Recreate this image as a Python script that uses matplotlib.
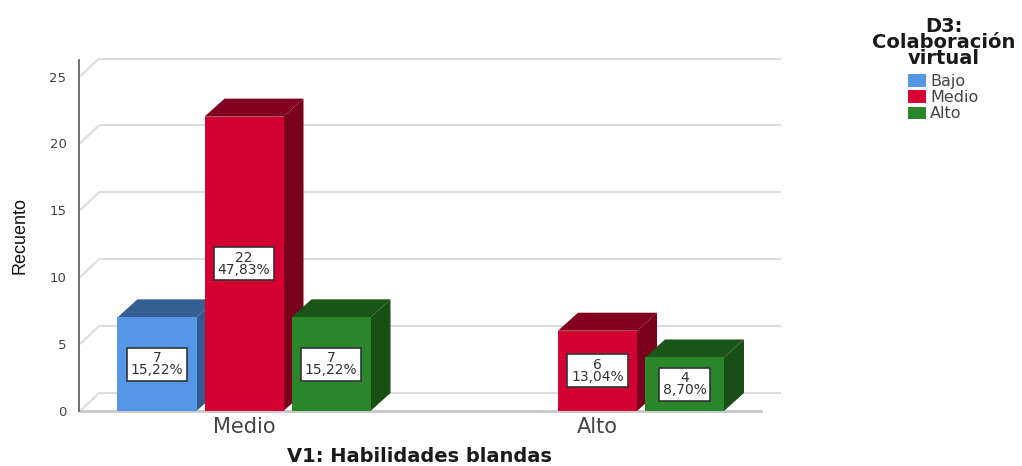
import matplotlib
matplotlib.use("Agg")
import matplotlib.pyplot as plt
from matplotlib.patches import Patch

categories = ["Medio", "Alto"]
series_names = ["Bajo", "Medio", "Alto"]
bajo = [7, 0]
medio = [22, 6]
alto = [7, 4]
bajo_pct = ["15,22%", ""]
medio_pct = ["47,83%", "13,04%"]
alto_pct = ["15,22%", "8,70%"]
y_ticks = [0, 5, 10, 15, 20, 25]

front = ["#5596E6", "#D50032", "#2A862A"]
top = ["#355E91", "#820020", "#1A5417"]
side = ["#325A8C", "#7A001E", "#184F15"]
GRID = "#DCDCDC"

W, H = 1022, 466
fig = plt.figure(figsize=(W / 100, H / 100), dpi=100)
L, R, T, B = 79, 781, 60, 411
ax = fig.add_axes([L / W, 1 - B / H, (R - L) / W, (B - T) / H])
PX = 353.5      # pixels per category
PY = 13.38      # pixels per count
ax.set_xlim(-(244 - L) / PX, (R - 244) / PX)
ax.set_ylim(0, (B - T) / PY)
DX, DY = 20 / PX, 18 / PY
bar_w = 79 / PX
pitch = 87 / PX
x_left = ax.get_xlim()[0] + 1 / PX
x_right = ax.get_xlim()[1]

# back wall gridlines and their returns to the axis
for t in y_ticks:
    ax.plot([x_left, x_left + DX - 1 / PX], [t, t + DY], color=GRID, lw=1.5, zorder=1,
            solid_capstyle="butt", clip_on=False)
    ax.plot([x_left + DX - 1 / PX, x_right], [t + DY, t + DY], color=GRID, lw=1.5, zorder=1,
            solid_capstyle="butt", clip_on=False)
ax.plot([x_left, x_right - DX], [0, 0], color="#C8C8C8", lw=2, zorder=1.5, clip_on=False)

z = 2.0
for i, (vals, pcts) in enumerate(zip([bajo, medio, alto], [bajo_pct, medio_pct, alto_pct])):
    for c, (v, p) in enumerate(zip(vals, pcts)):
        if v == 0:
            continue
        cx = c + (i - 1) * pitch
        x0, x1 = cx - bar_w / 2, cx + bar_w / 2
        ax.fill([x1, x1 + DX, x1 + DX, x1], [0, DY, v + DY, v], color=side[i], lw=0, zorder=z)
        ax.fill([x0, x0 + DX, x1 + DX, x1], [v, v + DY, v + DY, v], color=top[i], lw=0, zorder=z)
        ax.bar(cx, v, width=bar_w, color=front[i], lw=0, zorder=z + 0.1)
        ax.text(cx, v / 2, f"{v}\n{p}", ha="center", va="center", fontsize=10, linespacing=0.78,
                color="#333333", zorder=z + 0.2,
                bbox=dict(boxstyle="square,pad=0.27", fc="white", ec="#333333", lw=1.2))
        z += 0.5

for s in ["top", "right", "bottom"]:
    ax.spines[s].set_visible(False)
ax.spines["left"].set_color("#666666")
ax.spines["left"].set_linewidth(1.3)
ax.set_yticks(y_ticks)
ax.set_yticklabels([str(t) for t in y_ticks], fontsize=9.5, color="#444444")
ax.tick_params(axis="y", length=0, pad=9)
ax.set_xticks(range(len(categories)))
ax.set_xticklabels(categories, fontsize=15, color="#444444")
ax.tick_params(axis="x", length=0, pad=4)

fig.text(419 / W, 1 - 457 / H, "V1: Habilidades blandas", ha="center", va="center",
         fontsize=14, fontweight="bold", color="#1A1A1A")
fig.text(20 / W, 1 - 235 / H, "Recuento", rotation=90, ha="center", va="center",
         fontsize=13, family="Liberation Sans", color="#111111")
fig.text(944 / W, 1 - 42 / H, "D3:\nColaboración\nvirtual", ha="center", va="center",
         fontsize=14, fontweight="bold", linespacing=0.8, color="#1A1A1A")
handles = [Patch(color=c, lw=0) for c in front]
fig.legend(handles, series_names, loc="upper left", bbox_to_anchor=(908 / W, 1 - 74 / H),
           frameon=False, fontsize=11.5, handlelength=1.13, handleheight=0.8, handletextpad=0.25,
           labelspacing=0.07, borderpad=0, borderaxespad=0, labelcolor="#444444")

fig.savefig("out.png", dpi=100)
